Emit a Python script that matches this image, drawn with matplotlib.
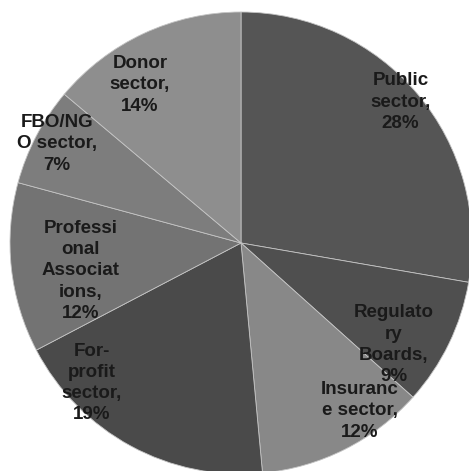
import matplotlib.pyplot as plt

# share of respondents by sector (percent)
sectors = ["Public\nsector", "Regulato\nry\nBoards", "Insuranc\ne sector",
           "For-\nprofit\nsector", "Professi\nonal\nAssociat\nions",
           "FBO/NG\nO sector", "Donor\nsector"]
shares = [28, 9, 12, 19, 12, 7, 14]

colors = ["#555555", "#4f4f4f", "#888888", "#4a4a4a", "#737373", "#7d7d7d", "#8e8e8e"]
# label centres, in units of the pie radius
label_xy = [(0.69, 0.61), (0.66, -0.44), (0.515, -0.727), (-0.645, -0.606),
            (-0.693, -0.121), (-0.797, 0.429), (-0.437, 0.684)]

fig = plt.figure(figsize=(4.69, 4.71), dpi=100)
ax = fig.add_axes([0, 0, 1, 1])
ax.pie(shares, colors=colors, startangle=90, counterclock=False, radius=1,
       wedgeprops=dict(edgecolor="#c4c4c4", linewidth=0.6))

for name, v, (x, y) in zip(sectors, shares, label_xy):
    ax.text(x, y, f"{name},\n{v}%", ha="center", va="center", multialignment="center",
            fontsize=13.5, fontweight="bold", family="Liberation Sans", color="#1a1a1a",
            linespacing=1.32)

ax.set_xlim(-241 / 231, 228 / 231)
ax.set_ylim(-228 / 231, 243 / 231)
ax.set_aspect("auto")
ax.axis("off")
fig.savefig("out.png", dpi=100)
